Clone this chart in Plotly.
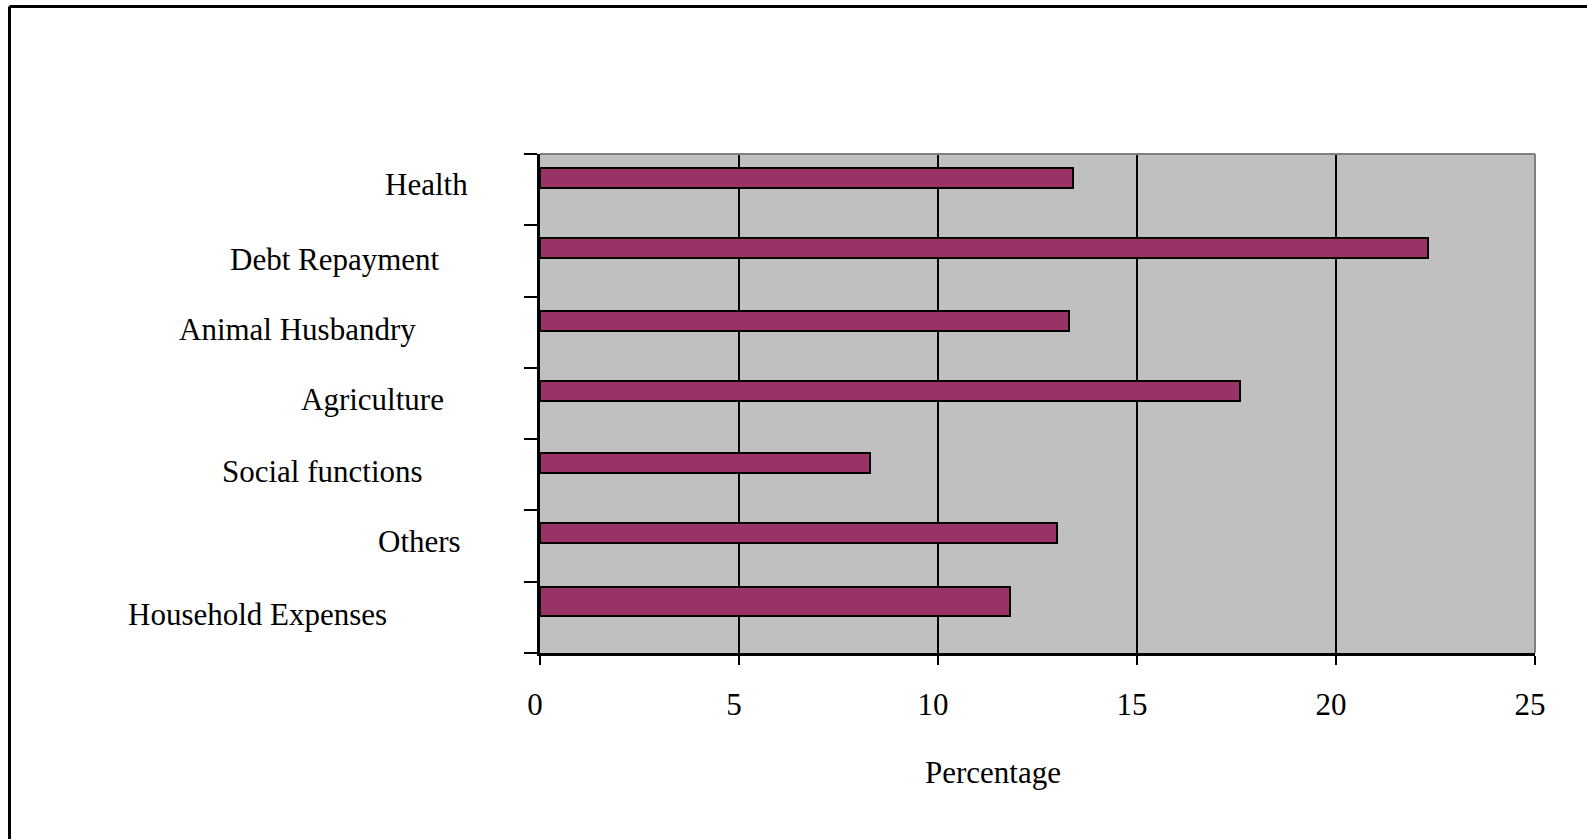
import plotly.graph_objects as go

# Loan utilisation by purpose (percent of borrowers)
categories = ["Household Expenses", "Others", "Social functions", "Agriculture",
              "Animal Husbandry", "Debt Repayment", "Health"]
percentages = [11.8, 13.0, 8.3, 17.6, 13.3, 22.3, 13.4]
x_ticks = [0, 5, 10, 15, 20, 25]
x_title = "Percentage"

# Layout in pixels
W, H = 1587, 839
L, R, T, B = 540, 1535, 154, 653
FONT = "Liberation Serif, Times New Roman, serif"
FS = 31

def px_x(x):
    return (x - L) / (R - L)

def px_y(y):
    return (B - y) / (B - T)

# bar thickness (fraction of a category band) and shift above band centre
bar_width = [0.40, 0.28, 0.28, 0.28, 0.28, 0.28, 0.28]
bar_shift = [0.22, 0.19, 0.17, 0.18, 0.16, 0.18, 0.17]
bar_offset = [s - w / 2 for s, w in zip(bar_shift, bar_width)]

fig = go.Figure(go.Bar(
    x=percentages,
    y=categories,
    orientation="h",
    width=bar_width,
    offset=bar_offset,
    marker=dict(color="#993366", line=dict(color="black", width=2)),
    hoverinfo="x+y",
))

# category labels placed to the left of the plot
label_right = [389, 463, 425, 446, 418, 442, 470]
label_y = [614, 541, 471, 399, 329, 259, 185]
annotations = []
for name, xr, yc in zip(categories, label_right, label_y):
    annotations.append(dict(
        text=name, xref="paper", yref="paper", x=px_x(xr), y=px_y(yc),
        xanchor="right", yanchor="middle", showarrow=False,
        font=dict(family=FONT, size=FS, color="black"),
    ))
annotations.append(dict(
    text=x_title, xref="paper", yref="paper", x=px_x(993), y=px_y(772),
    xanchor="center", yanchor="middle", showarrow=False,
    font=dict(family=FONT, size=FS, color="black"),
))

shapes = [
    # plot-area frame: grey top and right edges
    dict(type="line", xref="paper", yref="paper", x0=0, x1=1, y0=1, y1=1,
         line=dict(color="#808080", width=2)),
    dict(type="line", xref="paper", yref="paper", x0=1, x1=1, y0=0, y1=1,
         line=dict(color="#808080", width=2)),
    # outer chart frame (top and left)
    dict(type="line", xref="paper", yref="paper", x0=px_x(9.5), x1=px_x(W + 5),
         y0=px_y(6.5), y1=px_y(6.5), line=dict(color="black", width=3)),
    dict(type="line", xref="paper", yref="paper", x0=px_x(9.5), x1=px_x(9.5),
         y0=px_y(6.5), y1=px_y(H + 5), line=dict(color="black", width=3)),
]

fig.update_layout(
    width=W, height=H,
    margin=dict(l=L, r=W - R, t=T, b=H - B, pad=0),
    paper_bgcolor="white",
    plot_bgcolor="#C0C0C0",
    showlegend=False,
    bargap=0,
    font=dict(family=FONT, size=FS, color="black"),
    xaxis=dict(
        range=[0, 25], tickvals=x_ticks, ticktext=[str(v) for v in x_ticks],
        showgrid=True, gridcolor="black", gridwidth=2,
        showline=True, linecolor="black", linewidth=3,
        ticks="outside", ticklen=9, tickwidth=2, tickcolor="black",
        ticklabelstandoff=13, ticklabelshift=-5,
        tickfont=dict(family=FONT, size=FS, color="black"),
        zeroline=False, fixedrange=True,
    ),
    yaxis=dict(
        categoryorder="array", categoryarray=categories,
        showticklabels=False, tickson="boundaries",
        ticks="outside", ticklen=13, tickwidth=2, tickcolor="black",
        showline=True, linecolor="black", linewidth=3,
        showgrid=False, zeroline=False, fixedrange=True,
    ),
    annotations=annotations,
    shapes=shapes,
)

fig.write_html("out.html")
